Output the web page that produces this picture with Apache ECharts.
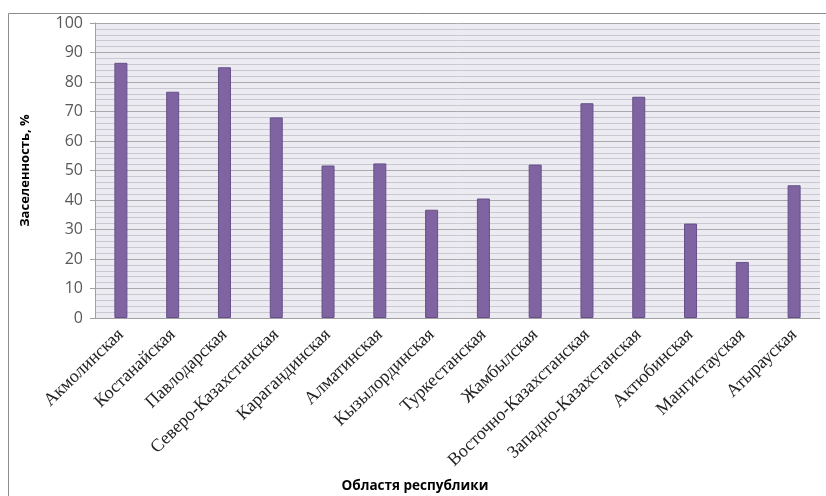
<!DOCTYPE html>
<html>
<head>
<meta charset="utf-8">
<script src="https://cdn.jsdelivr.net/npm/echarts@6/dist/echarts.min.js"></script>
<style>
  html, body { margin: 0; padding: 0; background: #fff; }
  #chart { width: 826px; height: 496px; }
</style>
</head>
<body>
<div id="chart"></div>
<script>
// Occupancy of housing by region, %
const regions = [
  'Акмолинская', 'Костанайская', 'Павлодарская', 'Северо-Казахстанская',
  'Карагандинская', 'Алматинская', 'Кызылординская', 'Туркестанская',
  'Жамбылская', 'Восточно-Казахстанская', 'Западно-Казахстанская',
  'Актюбинская', 'Мангистауская', 'Атырауская'
];
const occupancy = [86.5, 76.7, 85, 68, 51.7, 52.4, 36.7, 40.5, 52, 72.8, 75, 32, 19, 45];
const yTicks = { min: 0, max: 100, interval: 10 };

const chart = echarts.init(document.getElementById('chart'), null, { renderer: 'canvas' });

chart.setOption({
  animation: false,
  backgroundColor: '#ffffff',
  grid: { left: 95, right: 6, top: 23, bottom: 178, show: true, backgroundColor: '#ecebf1', borderWidth: 0 },
  graphic: [
    {
      type: 'rect',
      shape: { x: 8.5, y: 13.5, width: 830, height: 500 },
      style: { fill: 'none', stroke: '#8c8c8c', lineWidth: 1 },
      silent: true
    },
    {
      type: 'text',
      x: 415,
      y: 479,
      style: {
        text: 'Областя республики',
        font: 'bold 13.5px "Open Sans", sans-serif',
        fill: '#000',
        align: 'center'
      }
    }
  ],
  xAxis: {
    type: 'category',
    data: regions,
    axisLine: { show: true, lineStyle: { color: '#a0a0a0' } },
    axisTick: { show: false },
    axisLabel: {
      interval: 0,
      rotate: 44,
      margin: 14,
      color: '#222',
      fontFamily: '"Liberation Serif", "DejaVu Serif", serif',
      fontSize: 18
    },
    splitLine: { show: false }
  },
  yAxis: {
    type: 'value',
    min: yTicks.min,
    max: yTicks.max,
    interval: yTicks.interval,
    name: 'Заселенность, %',
    nameLocation: 'middle',
    nameRotate: 90,
    nameGap: 63,
    nameTextStyle: {
      fontFamily: '"Open Sans", sans-serif',
      fontWeight: 'bold',
      fontSize: 13,
      color: '#000'
    },
    axisLine: { show: true, lineStyle: { color: '#a0a0a0' } },
    axisTick: { show: true, length: 5, lineStyle: { color: '#a0a0a0' } },
    axisLabel: {
      margin: 12,
      color: '#595959',
      fontFamily: '"Open Sans", sans-serif',
      fontSize: 16
    },
    splitLine: { show: true, lineStyle: { color: '#a9a9ad', width: 1 } },
    minorTick: { show: false, splitNumber: 5 },
    minorSplitLine: { show: true, lineStyle: { color: '#c9c7d0', width: 1 } }
  },
  series: [{
    type: 'bar',
    data: occupancy,
    barWidth: 13,
    itemStyle: {
      color: '#8064a2',
      borderColor: '#65508a',
      borderWidth: 1
    }
  }]
});
</script>
</body>
</html>
